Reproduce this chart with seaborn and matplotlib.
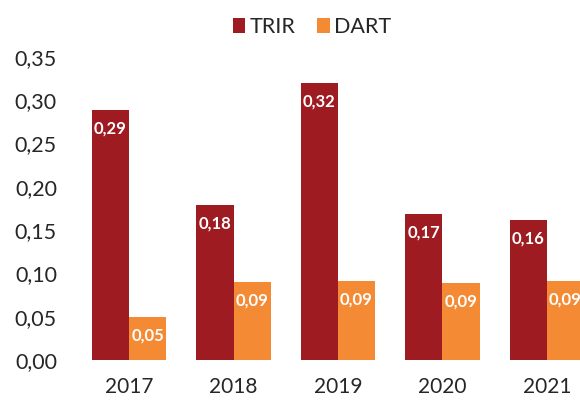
import numpy as np
import pandas as pd
import matplotlib.pyplot as plt
import seaborn as sns

# values
years = ['2017', '2018', '2019', '2020', '2021']
trir = [0.289, 0.179, 0.320, 0.169, 0.162]
dart = [0.0497, 0.090, 0.091, 0.089, 0.091]
y_ticks = [0.00, 0.05, 0.10, 0.15, 0.20, 0.25, 0.30, 0.35]

colors = {'TRIR': '#9E1B22', 'DART': '#F58A35'}

df = pd.DataFrame({
    'year': years * 2,
    'series': ['TRIR'] * len(years) + ['DART'] * len(years),
    'value': trir + dart,
})

sns.set_theme(style='white')
plt.rcParams['font.family'] = ['Lato', 'DejaVu Sans']

fig = plt.figure(figsize=(5.8, 4.01), dpi=100)
ax = fig.add_axes([75 / 580, 41 / 401, 505 / 580, 303 / 401])

sns.barplot(data=df, x='year', y='value', hue='series', palette=colors,
            width=0.71, gap=0, saturation=1, linewidth=0, ax=ax)

ax.set_ylim(0, 0.35)
ax.set_xlim(-0.517, 4.316)
ax.set_yticks(y_ticks)
ax.set_yticklabels([f'{t:.2f}'.replace('.', ',') for t in y_ticks])
ax.set_xlabel('')
ax.set_ylabel('')
ax.tick_params(axis='y', length=0, pad=13, labelsize=15.5, labelcolor='#262626')
ax.tick_params(axis='x', length=0, pad=12, labelsize=15, labelcolor='#262626')
sns.despine(ax=ax, left=True, bottom=True)

# value labels inside the top of each bar (the last one is clipped at the edge, as in the original)
for container in ax.containers:
    for patch in container:
        h = patch.get_height()
        ax.annotate(f'{h:.2f}'.replace('.', ','),
                    (patch.get_x() + patch.get_width() / 2, h),
                    xytext=(0, -13.5), textcoords='offset points',
                    ha='center', va='center', color='white',
                    fontweight='bold', fontsize=12, clip_on=True)

handles, labels = ax.get_legend_handles_labels()
ax.get_legend().remove()
fig.legend(handles, labels, loc='upper center', bbox_to_anchor=(312 / 580, 1.005),
           ncol=2, frameon=False, fontsize=15.5, handlelength=0.6, handleheight=0.7,
           handletextpad=0.2, columnspacing=1.0, labelcolor='#262626')

fig.savefig('out.png', dpi=100)
